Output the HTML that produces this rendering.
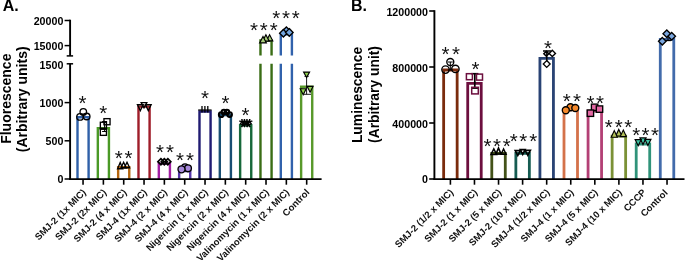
<!DOCTYPE html>
<html><head><meta charset="utf-8"><style>html,body{margin:0;padding:0;background:#fff}svg{display:block;will-change:transform}</style></head><body>
<svg width="685" height="260" viewBox="0 0 685 260">
<rect width="685" height="260" fill="#fff"/>
<text x="2.7" y="10.8" font-family="Liberation Sans, sans-serif" font-size="16" font-weight="bold">A.</text>
<text x="350.9" y="10.8" font-family="Liberation Sans, sans-serif" font-size="16" font-weight="bold">B.</text>
<path d="M77.50,179.00 L77.50,117.30 L88.60,117.30 L88.60,179.00" fill="none" stroke="#2f60a8" stroke-width="2.4" stroke-linejoin="miter"/>
<path d="M97.83,179.00 L97.83,128.30 L108.93,128.30 L108.93,179.00" fill="none" stroke="#4a9926" stroke-width="2.4" stroke-linejoin="miter"/>
<path d="M118.16,179.00 L118.16,167.30 L129.26,167.30 L129.26,179.00" fill="none" stroke="#b5660f" stroke-width="2.4" stroke-linejoin="miter"/>
<path d="M138.49,179.00 L138.49,106.60 L149.59,106.60 L149.59,179.00" fill="none" stroke="#9f1d29" stroke-width="2.4" stroke-linejoin="miter"/>
<path d="M158.82,179.00 L158.82,163.60 L169.92,163.60 L169.92,179.00" fill="none" stroke="#a31fa3" stroke-width="2.4" stroke-linejoin="miter"/>
<path d="M179.15,179.00 L179.15,171.00 L190.25,171.00 L190.25,179.00" fill="none" stroke="#5636aa" stroke-width="2.4" stroke-linejoin="miter"/>
<path d="M199.48,179.00 L199.48,111.50 L210.58,111.50 L210.58,179.00" fill="none" stroke="#201b72" stroke-width="2.4" stroke-linejoin="miter"/>
<path d="M219.81,179.00 L219.81,115.00 L230.91,115.00 L230.91,179.00" fill="none" stroke="#184e72" stroke-width="2.4" stroke-linejoin="miter"/>
<path d="M240.14,179.00 L240.14,125.30 L251.24,125.30 L251.24,179.00" fill="none" stroke="#17683a" stroke-width="2.4" stroke-linejoin="miter"/>
<path d="M301.13,179.00 L301.13,86.80 L312.23,86.80 L312.23,179.00" fill="none" stroke="#58992a" stroke-width="2.4" stroke-linejoin="miter"/>
<path d="M260.47,63.80 L260.47,179.00 M271.57,63.80 L271.57,179.00" fill="none" stroke="#3a6d15" stroke-width="2.4"/>
<path d="M280.80,63.80 L280.80,179.00 M291.90,63.80 L291.90,179.00" fill="none" stroke="#3162ac" stroke-width="2.4"/>
<path d="M260.47,55.40 L260.47,40.50 L271.57,40.50 L271.57,55.40" fill="none" stroke="#3a6d15" stroke-width="2.4" stroke-linejoin="miter"/>
<path d="M280.80,55.40 L280.80,34.30 L291.90,34.30 L291.90,55.40" fill="none" stroke="#3162ac" stroke-width="2.4" stroke-linejoin="miter"/>
<line x1="70.10" y1="19.70" x2="70.10" y2="55.90" stroke="#000" stroke-width="1.9"/>
<line x1="66.70" y1="55.90" x2="73.10" y2="55.90" stroke="#000" stroke-width="1.5"/>
<line x1="66.70" y1="63.80" x2="73.10" y2="63.80" stroke="#000" stroke-width="1.5"/>
<line x1="70.10" y1="63.80" x2="70.10" y2="180.00" stroke="#000" stroke-width="1.9"/>
<line x1="69.10" y1="179.10" x2="321.60" y2="179.10" stroke="#000" stroke-width="1.9"/>
<line x1="64.60" y1="20.50" x2="70.10" y2="20.50" stroke="#000" stroke-width="1.5"/>
<line x1="64.60" y1="45.60" x2="70.10" y2="45.60" stroke="#000" stroke-width="1.5"/>
<line x1="64.60" y1="102.60" x2="70.10" y2="102.60" stroke="#000" stroke-width="1.5"/>
<line x1="64.60" y1="140.80" x2="70.10" y2="140.80" stroke="#000" stroke-width="1.5"/>
<line x1="64.60" y1="179.00" x2="70.10" y2="179.00" stroke="#000" stroke-width="1.5"/>
<line x1="83.05" y1="179.00" x2="83.05" y2="184.70" stroke="#000" stroke-width="1.6"/>
<line x1="103.38" y1="179.00" x2="103.38" y2="184.70" stroke="#000" stroke-width="1.6"/>
<line x1="123.71" y1="179.00" x2="123.71" y2="184.70" stroke="#000" stroke-width="1.6"/>
<line x1="144.04" y1="179.00" x2="144.04" y2="184.70" stroke="#000" stroke-width="1.6"/>
<line x1="164.37" y1="179.00" x2="164.37" y2="184.70" stroke="#000" stroke-width="1.6"/>
<line x1="184.70" y1="179.00" x2="184.70" y2="184.70" stroke="#000" stroke-width="1.6"/>
<line x1="205.03" y1="179.00" x2="205.03" y2="184.70" stroke="#000" stroke-width="1.6"/>
<line x1="225.36" y1="179.00" x2="225.36" y2="184.70" stroke="#000" stroke-width="1.6"/>
<line x1="245.69" y1="179.00" x2="245.69" y2="184.70" stroke="#000" stroke-width="1.6"/>
<line x1="266.02" y1="179.00" x2="266.02" y2="184.70" stroke="#000" stroke-width="1.6"/>
<line x1="286.35" y1="179.00" x2="286.35" y2="184.70" stroke="#000" stroke-width="1.6"/>
<line x1="306.68" y1="179.00" x2="306.68" y2="184.70" stroke="#000" stroke-width="1.6"/>
<text x="63.4" y="24.93" font-family="Liberation Sans, sans-serif" font-size="10.7" font-weight="bold" text-anchor="end">20000</text>
<text x="63.4" y="50.03" font-family="Liberation Sans, sans-serif" font-size="10.7" font-weight="bold" text-anchor="end">15000</text>
<text x="63.4" y="68.93" font-family="Liberation Sans, sans-serif" font-size="10.7" font-weight="bold" text-anchor="end">1500</text>
<text x="63.4" y="107.03" font-family="Liberation Sans, sans-serif" font-size="10.7" font-weight="bold" text-anchor="end">1000</text>
<text x="63.4" y="145.23" font-family="Liberation Sans, sans-serif" font-size="10.7" font-weight="bold" text-anchor="end">500</text>
<text x="63.4" y="183.43" font-family="Liberation Sans, sans-serif" font-size="10.7" font-weight="bold" text-anchor="end">0</text>
<text transform="translate(11.2,98.7) rotate(-90)" font-family="Liberation Sans, sans-serif" font-size="14" font-weight="bold" text-anchor="middle">Fluorescence</text>
<text transform="translate(27.3,99.3) rotate(-90)" font-family="Liberation Sans, sans-serif" font-size="14" font-weight="bold" text-anchor="middle">(Arbitrary units)</text>
<line x1="80.50" y1="114.00" x2="86.20" y2="114.00" stroke="#000" stroke-width="1.0"/>
<circle cx="80.00" cy="116.90" r="3.25" fill="none" stroke="#000" stroke-width="1.35"/>
<circle cx="86.70" cy="116.50" r="3.25" fill="none" stroke="#000" stroke-width="1.35"/>
<circle cx="83.30" cy="111.90" r="3.25" fill="none" stroke="#000" stroke-width="1.35"/>
<text x="82.50" y="110.40" font-family="Liberation Sans, sans-serif" font-size="20.5" text-anchor="middle" fill="#111">*</text>
<line x1="104.60" y1="121.50" x2="104.60" y2="131.50" stroke="#000" stroke-width="1.0"/>
<line x1="102.10" y1="121.50" x2="107.10" y2="121.50" stroke="#000" stroke-width="1.0"/>
<line x1="102.10" y1="131.50" x2="107.10" y2="131.50" stroke="#000" stroke-width="1.0"/>
<rect x="100.35" y="122.25" width="6.1" height="6.1" fill="none" stroke="#000" stroke-width="1.35"/>
<rect x="103.95" y="118.65" width="6.1" height="6.1" fill="none" stroke="#000" stroke-width="1.35"/>
<rect x="100.35" y="129.25" width="6.1" height="6.1" fill="none" stroke="#000" stroke-width="1.35"/>
<text x="103.30" y="119.90" font-family="Liberation Sans, sans-serif" font-size="20.5" text-anchor="middle" fill="#111">*</text>
<polygon points="120.20,162.41 122.82,168.72 117.58,168.72" fill="none" stroke="#000" stroke-width="1.35" stroke-linejoin="miter"/>
<polygon points="127.00,162.22 129.62,167.72 124.38,167.72" fill="none" stroke="#000" stroke-width="1.35" stroke-linejoin="miter"/>
<polygon points="123.60,162.22 126.22,167.72 120.98,167.72" fill="none" stroke="#000" stroke-width="1.35" stroke-linejoin="miter"/>
<text x="118.80" y="165.10" font-family="Liberation Sans, sans-serif" font-size="20.5" text-anchor="middle" fill="#111">*</text>
<text x="128.40" y="165.10" font-family="Liberation Sans, sans-serif" font-size="20.5" text-anchor="middle" fill="#111">*</text>
<polygon points="141.18,102.58 146.82,102.58 144.00,107.78" fill="none" stroke="#000" stroke-width="1.35" stroke-linejoin="miter"/>
<polygon points="137.48,104.77 143.12,104.77 140.30,110.58" fill="none" stroke="#000" stroke-width="1.35" stroke-linejoin="miter"/>
<polygon points="145.48,104.77 151.12,104.77 148.30,110.58" fill="none" stroke="#000" stroke-width="1.35" stroke-linejoin="miter"/>
<polygon points="160.90,158.70 163.90,161.70 160.90,164.70 157.90,161.70" fill="none" stroke="#000" stroke-width="1.7"/>
<polygon points="167.80,158.70 170.80,161.70 167.80,164.70 164.80,161.70" fill="none" stroke="#000" stroke-width="1.7"/>
<polygon points="164.30,158.70 167.30,161.70 164.30,164.70 161.30,161.70" fill="none" stroke="#000" stroke-width="1.7"/>
<text x="160.00" y="159.20" font-family="Liberation Sans, sans-serif" font-size="20.5" text-anchor="middle" fill="#111">*</text>
<text x="170.00" y="159.20" font-family="Liberation Sans, sans-serif" font-size="20.5" text-anchor="middle" fill="#111">*</text>
<circle cx="185.00" cy="167.20" r="3.3" fill="#a688da" stroke="#000" stroke-width="1.35"/>
<circle cx="188.00" cy="168.30" r="3.4" fill="#a688da" stroke="#000" stroke-width="1.35"/>
<circle cx="181.50" cy="169.30" r="3.5" fill="#a688da" stroke="#000" stroke-width="1.35"/>
<text x="180.00" y="166.80" font-family="Liberation Sans, sans-serif" font-size="20.5" text-anchor="middle" fill="#111">*</text>
<text x="190.00" y="166.80" font-family="Liberation Sans, sans-serif" font-size="20.5" text-anchor="middle" fill="#111">*</text>
<line x1="198.20" y1="110.00" x2="211.60" y2="110.00" stroke="#000" stroke-width="1.2"/>
<line x1="202.00" y1="106.00" x2="202.00" y2="112.40" stroke="#000" stroke-width="1.3"/>
<line x1="204.90" y1="106.00" x2="204.90" y2="112.40" stroke="#000" stroke-width="1.3"/>
<line x1="207.80" y1="106.00" x2="207.80" y2="112.40" stroke="#000" stroke-width="1.3"/>
<text x="205.00" y="105.40" font-family="Liberation Sans, sans-serif" font-size="20.5" text-anchor="middle" fill="#111">*</text>
<circle cx="223.90" cy="112.00" r="2.3" fill="none" stroke="#000" stroke-width="2.0"/>
<circle cx="226.90" cy="112.00" r="2.3" fill="none" stroke="#000" stroke-width="2.0"/>
<circle cx="221.20" cy="114.70" r="2.3" fill="none" stroke="#000" stroke-width="2.1"/>
<circle cx="229.60" cy="114.60" r="2.3" fill="none" stroke="#000" stroke-width="2.1"/>
<text x="225.50" y="109.90" font-family="Liberation Sans, sans-serif" font-size="20.5" text-anchor="middle" fill="#111">*</text>
<text x="242.0" y="129.33" font-family="Liberation Sans, sans-serif" font-size="15" font-weight="bold" text-anchor="middle">*</text>
<text x="244.5" y="128.83" font-family="Liberation Sans, sans-serif" font-size="15" font-weight="bold" text-anchor="middle">*</text>
<text x="247.0" y="129.03" font-family="Liberation Sans, sans-serif" font-size="15" font-weight="bold" text-anchor="middle">*</text>
<text x="249.6" y="129.33" font-family="Liberation Sans, sans-serif" font-size="15" font-weight="bold" text-anchor="middle">*</text>
<text x="243.2" y="131.53" font-family="Liberation Sans, sans-serif" font-size="15" font-weight="bold" text-anchor="middle">*</text>
<text x="245.8" y="131.33" font-family="Liberation Sans, sans-serif" font-size="15" font-weight="bold" text-anchor="middle">*</text>
<text x="248.4" y="131.53" font-family="Liberation Sans, sans-serif" font-size="15" font-weight="bold" text-anchor="middle">*</text>
<text x="245.50" y="121.70" font-family="Liberation Sans, sans-serif" font-size="20.5" text-anchor="middle" fill="#111">*</text>
<polygon points="269.60,34.83 272.78,40.82 266.42,40.82" fill="#a8cd7c" stroke="#000" stroke-width="1.15" stroke-linejoin="miter"/>
<polygon points="265.90,34.83 269.08,41.02 262.72,41.02" fill="#a8cd7c" stroke="#000" stroke-width="1.15" stroke-linejoin="miter"/>
<polygon points="263.00,36.43 266.38,42.92 259.62,42.92" fill="#a8cd7c" stroke="#000" stroke-width="1.15" stroke-linejoin="miter"/>
<text x="253.90" y="37.40" font-family="Liberation Sans, sans-serif" font-size="20.5" text-anchor="middle" fill="#111">*</text>
<text x="263.80" y="37.40" font-family="Liberation Sans, sans-serif" font-size="20.5" text-anchor="middle" fill="#111">*</text>
<text x="273.70" y="37.40" font-family="Liberation Sans, sans-serif" font-size="20.5" text-anchor="middle" fill="#111">*</text>
<polygon points="286.40,26.90 290.10,30.60 286.40,34.30 282.70,30.60" fill="#74a6e0" stroke="#000" stroke-width="1.35"/>
<polygon points="283.40,29.50 287.20,33.30 283.40,37.10 279.60,33.30" fill="#74a6e0" stroke="#000" stroke-width="1.35"/>
<polygon points="289.30,28.60 293.10,32.40 289.30,36.20 285.50,32.40" fill="#74a6e0" stroke="#000" stroke-width="1.35"/>
<text x="276.30" y="25.10" font-family="Liberation Sans, sans-serif" font-size="20.5" text-anchor="middle" fill="#111">*</text>
<text x="285.90" y="25.10" font-family="Liberation Sans, sans-serif" font-size="20.5" text-anchor="middle" fill="#111">*</text>
<text x="295.80" y="25.10" font-family="Liberation Sans, sans-serif" font-size="20.5" text-anchor="middle" fill="#111">*</text>
<line x1="306.60" y1="76.00" x2="306.60" y2="94.30" stroke="#000" stroke-width="0.9"/>
<line x1="303.70" y1="94.30" x2="311.00" y2="94.30" stroke="#000" stroke-width="0.9"/>
<line x1="304.50" y1="76.40" x2="308.70" y2="76.40" stroke="#000" stroke-width="0.9"/>
<polygon points="303.62,72.08 309.58,72.08 306.60,77.56" fill="#8fcf4f" stroke="#000" stroke-width="1.15" stroke-linejoin="miter"/>
<polygon points="307.12,86.38 313.08,86.38 310.10,92.17" fill="#8fcf4f" stroke="#000" stroke-width="1.15" stroke-linejoin="miter"/>
<polygon points="300.22,88.78 306.18,88.78 303.20,94.77" fill="#8fcf4f" stroke="#000" stroke-width="1.15" stroke-linejoin="miter"/>
<text transform="translate(86.55,193.00) rotate(-45)" font-family="Liberation Sans, sans-serif" font-size="9.5" font-weight="bold" text-anchor="end" fill="#111">SMJ-2 (1x MIC)</text>
<text transform="translate(106.88,193.00) rotate(-45)" font-family="Liberation Sans, sans-serif" font-size="9.5" font-weight="bold" text-anchor="end" fill="#111">SMJ-2 (2x MIC)</text>
<text transform="translate(127.21,193.00) rotate(-45)" font-family="Liberation Sans, sans-serif" font-size="9.5" font-weight="bold" text-anchor="end" fill="#111">SMJ-2 (4 x MIC)</text>
<text transform="translate(147.54,193.00) rotate(-45)" font-family="Liberation Sans, sans-serif" font-size="9.5" font-weight="bold" text-anchor="end" fill="#111">SMJ-4 (1x MIC)</text>
<text transform="translate(167.87,193.00) rotate(-45)" font-family="Liberation Sans, sans-serif" font-size="9.5" font-weight="bold" text-anchor="end" fill="#111">SMJ-4 (2 x MIC)</text>
<text transform="translate(188.20,193.00) rotate(-45)" font-family="Liberation Sans, sans-serif" font-size="9.5" font-weight="bold" text-anchor="end" fill="#111">SMJ-4 (4 x MIC)</text>
<text transform="translate(208.53,193.00) rotate(-45)" font-family="Liberation Sans, sans-serif" font-size="9.5" font-weight="bold" text-anchor="end" fill="#111">Nigericin (1 x MIC)</text>
<text transform="translate(228.86,193.00) rotate(-45)" font-family="Liberation Sans, sans-serif" font-size="9.5" font-weight="bold" text-anchor="end" fill="#111">Nigericin (2 x MIC)</text>
<text transform="translate(249.19,193.00) rotate(-45)" font-family="Liberation Sans, sans-serif" font-size="9.5" font-weight="bold" text-anchor="end" fill="#111">Nigericin (4 x MIC)</text>
<text transform="translate(269.52,193.00) rotate(-45)" font-family="Liberation Sans, sans-serif" font-size="9.5" font-weight="bold" text-anchor="end" fill="#111">Valinomycin (1 x MIC)</text>
<text transform="translate(289.85,193.00) rotate(-45)" font-family="Liberation Sans, sans-serif" font-size="9.5" font-weight="bold" text-anchor="end" fill="#111">Valinomycin (2 x MIC)</text>
<text transform="translate(310.18,193.00) rotate(-45)" font-family="Liberation Sans, sans-serif" font-size="9.5" font-weight="bold" text-anchor="end" fill="#111">Control</text>
<path d="M443.65,179.00 L443.65,70.00 L457.15,70.00 L457.15,179.00" fill="none" stroke="#7a2b0c" stroke-width="2.8" stroke-linejoin="miter"/>
<path d="M467.72,179.00 L467.72,83.40 L481.22,83.40 L481.22,179.00" fill="none" stroke="#6c0f3e" stroke-width="2.8" stroke-linejoin="miter"/>
<path d="M491.79,179.00 L491.79,153.30 L505.29,153.30 L505.29,179.00" fill="none" stroke="#435219" stroke-width="2.8" stroke-linejoin="miter"/>
<path d="M515.86,179.00 L515.86,153.30 L529.36,153.30 L529.36,179.00" fill="none" stroke="#165c52" stroke-width="2.8" stroke-linejoin="miter"/>
<path d="M539.93,179.00 L539.93,58.40 L553.43,58.40 L553.43,179.00" fill="none" stroke="#294374" stroke-width="2.8" stroke-linejoin="miter"/>
<path d="M564.00,179.00 L564.00,109.80 L577.50,109.80 L577.50,179.00" fill="none" stroke="#d4724a" stroke-width="2.8" stroke-linejoin="miter"/>
<path d="M588.07,179.00 L588.07,111.00 L601.57,111.00 L601.57,179.00" fill="none" stroke="#b34075" stroke-width="2.8" stroke-linejoin="miter"/>
<path d="M612.14,179.00 L612.14,136.20 L625.64,136.20 L625.64,179.00" fill="none" stroke="#7b9136" stroke-width="2.8" stroke-linejoin="miter"/>
<path d="M636.21,179.00 L636.21,144.00 L649.71,144.00 L649.71,179.00" fill="none" stroke="#30937a" stroke-width="2.8" stroke-linejoin="miter"/>
<path d="M660.28,179.00 L660.28,39.40 L673.78,39.40 L673.78,179.00" fill="none" stroke="#426bab" stroke-width="2.8" stroke-linejoin="miter"/>
<line x1="434.40" y1="10.20" x2="434.40" y2="180.00" stroke="#000" stroke-width="1.9"/>
<line x1="433.40" y1="179.10" x2="684.50" y2="179.10" stroke="#000" stroke-width="1.9"/>
<line x1="429.20" y1="179.00" x2="434.40" y2="179.00" stroke="#000" stroke-width="1.6"/>
<line x1="429.20" y1="123.00" x2="434.40" y2="123.00" stroke="#000" stroke-width="1.6"/>
<line x1="429.20" y1="67.00" x2="434.40" y2="67.00" stroke="#000" stroke-width="1.6"/>
<line x1="429.20" y1="11.00" x2="434.40" y2="11.00" stroke="#000" stroke-width="1.6"/>
<line x1="450.40" y1="179.00" x2="450.40" y2="184.70" stroke="#000" stroke-width="1.6"/>
<line x1="474.47" y1="179.00" x2="474.47" y2="184.70" stroke="#000" stroke-width="1.6"/>
<line x1="498.54" y1="179.00" x2="498.54" y2="184.70" stroke="#000" stroke-width="1.6"/>
<line x1="522.61" y1="179.00" x2="522.61" y2="184.70" stroke="#000" stroke-width="1.6"/>
<line x1="546.68" y1="179.00" x2="546.68" y2="184.70" stroke="#000" stroke-width="1.6"/>
<line x1="570.75" y1="179.00" x2="570.75" y2="184.70" stroke="#000" stroke-width="1.6"/>
<line x1="594.82" y1="179.00" x2="594.82" y2="184.70" stroke="#000" stroke-width="1.6"/>
<line x1="618.89" y1="179.00" x2="618.89" y2="184.70" stroke="#000" stroke-width="1.6"/>
<line x1="642.96" y1="179.00" x2="642.96" y2="184.70" stroke="#000" stroke-width="1.6"/>
<line x1="667.03" y1="179.00" x2="667.03" y2="184.70" stroke="#000" stroke-width="1.6"/>
<text x="428.0" y="16.03" font-family="Liberation Sans, sans-serif" font-size="10.7" font-weight="bold" text-anchor="end">1200000</text>
<text x="428.0" y="72.03" font-family="Liberation Sans, sans-serif" font-size="10.7" font-weight="bold" text-anchor="end">800000</text>
<text x="428.0" y="128.03" font-family="Liberation Sans, sans-serif" font-size="10.7" font-weight="bold" text-anchor="end">400000</text>
<text x="428.0" y="183.43" font-family="Liberation Sans, sans-serif" font-size="10.7" font-weight="bold" text-anchor="end">0</text>
<text transform="translate(361.5,95.0) rotate(-90)" font-family="Liberation Sans, sans-serif" font-size="13.85" font-weight="bold" text-anchor="middle">Luminescence</text>
<text transform="translate(378.8,94.5) rotate(-90)" font-family="Liberation Sans, sans-serif" font-size="13.85" font-weight="bold" text-anchor="middle">(Arbitrary unit)</text>
<line x1="450.30" y1="62.00" x2="450.30" y2="70.00" stroke="#000" stroke-width="1.0"/>
<line x1="447.80" y1="62.00" x2="452.80" y2="62.00" stroke="#000" stroke-width="1.0"/>
<line x1="447.80" y1="70.00" x2="452.80" y2="70.00" stroke="#000" stroke-width="1.0"/>
<circle cx="445.50" cy="69.60" r="3.7" fill="none" stroke="#000" stroke-width="1.35"/>
<circle cx="455.40" cy="68.90" r="3.7" fill="none" stroke="#000" stroke-width="1.35"/>
<circle cx="450.30" cy="62.00" r="3.5" fill="none" stroke="#000" stroke-width="1.35"/>
<text x="445.60" y="60.70" font-family="Liberation Sans, sans-serif" font-size="20.5" text-anchor="middle" fill="#111">*</text>
<text x="455.90" y="60.70" font-family="Liberation Sans, sans-serif" font-size="20.5" text-anchor="middle" fill="#111">*</text>
<line x1="474.80" y1="73.50" x2="474.80" y2="88.00" stroke="#000" stroke-width="1.7"/>
<line x1="471.20" y1="73.70" x2="478.40" y2="73.70" stroke="#000" stroke-width="1.6"/>
<line x1="471.60" y1="88.30" x2="478.00" y2="88.30" stroke="#000" stroke-width="1.2"/>
<rect x="466.40" y="73.70" width="6.0" height="6.0" fill="none" stroke="#6c0f3e" stroke-width="1.5"/>
<rect x="476.50" y="74.10" width="6.0" height="6.0" fill="none" stroke="#6c0f3e" stroke-width="1.5"/>
<rect x="471.70" y="87.30" width="6.6" height="6.6" fill="none" stroke="#6c0f3e" stroke-width="1.5"/>
<text x="475.40" y="75.80" font-family="Liberation Sans, sans-serif" font-size="20.5" text-anchor="middle" fill="#111">*</text>
<polygon points="493.80,148.95 496.60,154.45 491.00,154.45" fill="none" stroke="#000" stroke-width="1.5" stroke-linejoin="miter"/>
<polygon points="503.60,148.95 506.10,154.25 501.10,154.25" fill="none" stroke="#000" stroke-width="1.5" stroke-linejoin="miter"/>
<polygon points="498.50,148.04 501.02,154.00 495.98,154.00" fill="none" stroke="#000" stroke-width="1.6" stroke-linejoin="miter"/>
<text x="487.50" y="153.00" font-family="Liberation Sans, sans-serif" font-size="20.5" text-anchor="middle" fill="#111">*</text>
<text x="497.00" y="153.00" font-family="Liberation Sans, sans-serif" font-size="20.5" text-anchor="middle" fill="#111">*</text>
<text x="506.80" y="153.00" font-family="Liberation Sans, sans-serif" font-size="20.5" text-anchor="middle" fill="#111">*</text>
<polygon points="520.26,149.65 525.14,149.65 522.70,154.47" fill="none" stroke="#000" stroke-width="1.7" stroke-linejoin="miter"/>
<polygon points="515.18,150.60 520.42,150.60 517.80,155.56" fill="none" stroke="#000" stroke-width="1.6" stroke-linejoin="miter"/>
<polygon points="525.18,150.40 530.42,150.40 527.80,155.36" fill="none" stroke="#000" stroke-width="1.6" stroke-linejoin="miter"/>
<text x="513.80" y="148.30" font-family="Liberation Sans, sans-serif" font-size="20.5" text-anchor="middle" fill="#111">*</text>
<text x="523.30" y="148.30" font-family="Liberation Sans, sans-serif" font-size="20.5" text-anchor="middle" fill="#111">*</text>
<text x="533.20" y="148.30" font-family="Liberation Sans, sans-serif" font-size="20.5" text-anchor="middle" fill="#111">*</text>
<line x1="546.80" y1="50.90" x2="546.80" y2="61.50" stroke="#000" stroke-width="1.4"/>
<line x1="543.00" y1="51.00" x2="551.00" y2="51.00" stroke="#000" stroke-width="1.5"/>
<polygon points="546.30,51.40 548.70,53.80 546.30,56.20 543.90,53.80" fill="none" stroke="#000" stroke-width="1.6"/>
<polygon points="552.30,50.20 555.50,53.40 552.30,56.60 549.10,53.40" fill="none" stroke="#000" stroke-width="1.35"/>
<polygon points="546.70,60.60 550.10,64.00 546.70,67.40 543.30,64.00" fill="none" stroke="#000" stroke-width="1.35"/>
<text x="547.90" y="55.30" font-family="Liberation Sans, sans-serif" font-size="20.5" text-anchor="middle" fill="#111">*</text>
<circle cx="570.50" cy="107.20" r="3.5" fill="#f68a2c" stroke="#000" stroke-width="1.35"/>
<circle cx="575.30" cy="108.00" r="3.5" fill="#f68a2c" stroke="#000" stroke-width="1.35"/>
<circle cx="565.80" cy="110.20" r="3.5" fill="#f68a2c" stroke="#000" stroke-width="1.35"/>
<text x="566.80" y="107.90" font-family="Liberation Sans, sans-serif" font-size="20.5" text-anchor="middle" fill="#111">*</text>
<text x="577.00" y="107.90" font-family="Liberation Sans, sans-serif" font-size="20.5" text-anchor="middle" fill="#111">*</text>
<rect x="591.40" y="104.10" width="6.4" height="6.4" fill="#e468a4" stroke="#000" stroke-width="1.35"/>
<rect x="596.30" y="105.90" width="6.4" height="6.4" fill="#e468a4" stroke="#000" stroke-width="1.35"/>
<rect x="587.20" y="110.00" width="6.4" height="6.4" fill="#e468a4" stroke="#000" stroke-width="1.35"/>
<text x="590.50" y="109.90" font-family="Liberation Sans, sans-serif" font-size="20.5" text-anchor="middle" fill="#111">*</text>
<text x="600.10" y="109.90" font-family="Liberation Sans, sans-serif" font-size="20.5" text-anchor="middle" fill="#111">*</text>
<polygon points="618.80,129.44 621.88,136.03 615.72,136.03" fill="#b3c25a" stroke="#000" stroke-width="1.15" stroke-linejoin="miter"/>
<polygon points="623.30,130.03 626.38,136.62 620.22,136.62" fill="#b3c25a" stroke="#000" stroke-width="1.15" stroke-linejoin="miter"/>
<polygon points="614.30,130.63 617.38,137.23 611.22,137.23" fill="#b3c25a" stroke="#000" stroke-width="1.15" stroke-linejoin="miter"/>
<text x="608.80" y="134.40" font-family="Liberation Sans, sans-serif" font-size="20.5" text-anchor="middle" fill="#111">*</text>
<text x="618.70" y="134.40" font-family="Liberation Sans, sans-serif" font-size="20.5" text-anchor="middle" fill="#111">*</text>
<text x="628.30" y="134.40" font-family="Liberation Sans, sans-serif" font-size="20.5" text-anchor="middle" fill="#111">*</text>
<polygon points="639.92,137.88 646.08,137.88 643.00,144.56" fill="#3fc4a4" stroke="#000" stroke-width="1.15" stroke-linejoin="miter"/>
<polygon points="644.82,139.38 650.98,139.38 647.90,145.56" fill="#3fc4a4" stroke="#000" stroke-width="1.15" stroke-linejoin="miter"/>
<polygon points="635.12,139.57 641.28,139.57 638.20,145.77" fill="#3fc4a4" stroke="#000" stroke-width="1.15" stroke-linejoin="miter"/>
<text x="636.20" y="141.60" font-family="Liberation Sans, sans-serif" font-size="20.5" text-anchor="middle" fill="#111">*</text>
<text x="645.60" y="141.60" font-family="Liberation Sans, sans-serif" font-size="20.5" text-anchor="middle" fill="#111">*</text>
<text x="655.00" y="141.60" font-family="Liberation Sans, sans-serif" font-size="20.5" text-anchor="middle" fill="#111">*</text>
<line x1="668.00" y1="35.00" x2="668.00" y2="40.40" stroke="#000" stroke-width="1.0"/>
<line x1="665.30" y1="40.50" x2="671.20" y2="40.50" stroke="#000" stroke-width="1.3"/>
<polygon points="666.80,29.90 670.60,33.70 666.80,37.50 663.00,33.70" fill="#7aa6de" stroke="#000" stroke-width="1.35"/>
<polygon points="671.70,32.50 675.50,36.30 671.70,40.10 667.90,36.30" fill="#7aa6de" stroke="#000" stroke-width="1.35"/>
<polygon points="662.30,37.40 666.10,41.20 662.30,45.00 658.50,41.20" fill="#7aa6de" stroke="#000" stroke-width="1.35"/>
<text transform="translate(453.90,193.00) rotate(-45)" font-family="Liberation Sans, sans-serif" font-size="9.5" font-weight="bold" text-anchor="end" fill="#111">SMJ-2 (1/2 x MIC)</text>
<text transform="translate(477.97,193.00) rotate(-45)" font-family="Liberation Sans, sans-serif" font-size="9.5" font-weight="bold" text-anchor="end" fill="#111">SMJ-2 (1 x MIC)</text>
<text transform="translate(502.04,193.00) rotate(-45)" font-family="Liberation Sans, sans-serif" font-size="9.5" font-weight="bold" text-anchor="end" fill="#111">SMJ-2 (5 x MIC)</text>
<text transform="translate(526.11,193.00) rotate(-45)" font-family="Liberation Sans, sans-serif" font-size="9.5" font-weight="bold" text-anchor="end" fill="#111">SMJ-2 (10 x MIC)</text>
<text transform="translate(550.18,193.00) rotate(-45)" font-family="Liberation Sans, sans-serif" font-size="9.5" font-weight="bold" text-anchor="end" fill="#111">SMJ-4 (1/2 x MIC)</text>
<text transform="translate(574.25,193.00) rotate(-45)" font-family="Liberation Sans, sans-serif" font-size="9.5" font-weight="bold" text-anchor="end" fill="#111">SMJ-4 (1 x MIC)</text>
<text transform="translate(598.32,193.00) rotate(-45)" font-family="Liberation Sans, sans-serif" font-size="9.5" font-weight="bold" text-anchor="end" fill="#111">SMJ-4 (5 x MIC)</text>
<text transform="translate(622.39,193.00) rotate(-45)" font-family="Liberation Sans, sans-serif" font-size="9.5" font-weight="bold" text-anchor="end" fill="#111">SMJ-4 (10 x MIC)</text>
<text transform="translate(646.46,193.00) rotate(-45)" font-family="Liberation Sans, sans-serif" font-size="9.5" font-weight="bold" text-anchor="end" fill="#111">CCCP</text>
<text transform="translate(668.33,193.40) rotate(-45)" font-family="Liberation Sans, sans-serif" font-size="9.5" font-weight="bold" text-anchor="end" fill="#111">Control</text>
</svg>
</body></html>
